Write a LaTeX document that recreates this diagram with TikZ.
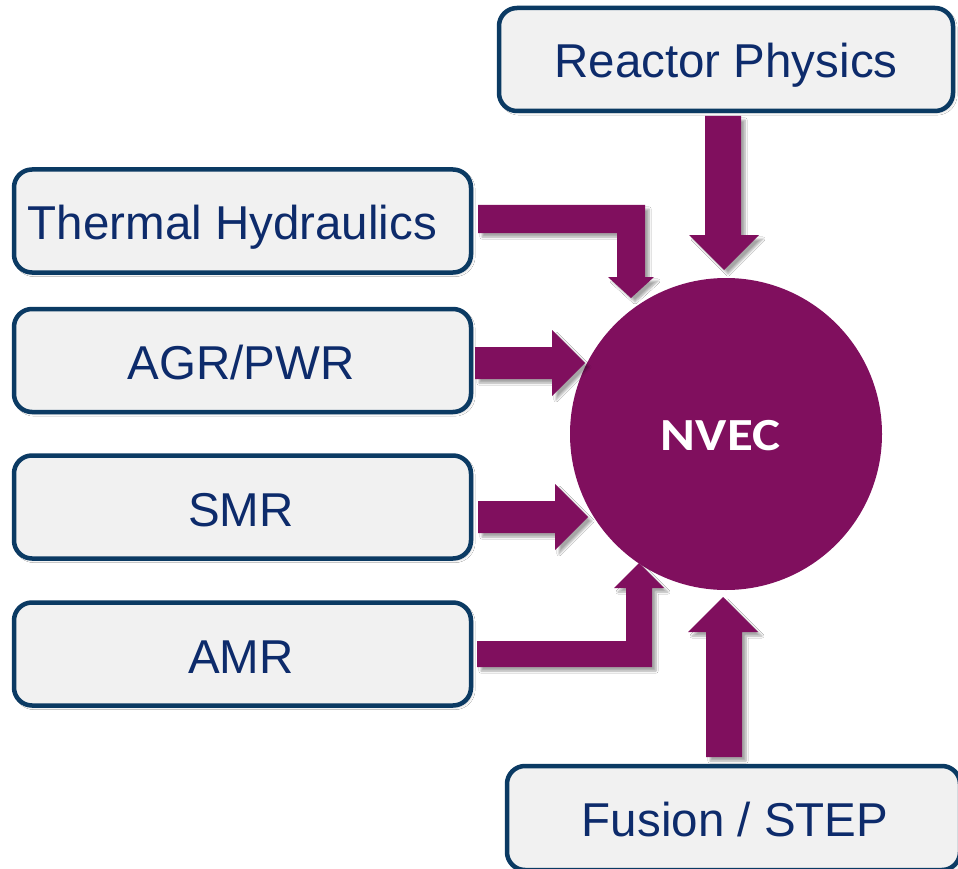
\documentclass[tikz,border=0pt]{standalone}
\usepackage{fontspec}
\usepackage{graphicx}
\setmainfont{Liberation Sans}
\newfontfamily\nvecfont{Carlito}
\usetikzlibrary{shadows.blur}
\definecolor{nvpurple}{HTML}{800F5E}
\definecolor{boxborder}{HTML}{0B3A63}
\definecolor{boxtext}{HTML}{0D2B6B}
\definecolor{boxfill}{HTML}{F1F1F1}
\begin{document}
\begin{tikzpicture}[x=1pt,y=-1pt,
  topic/.style={draw=boxborder, line width=4.5pt, fill=boxfill, rounded corners=18pt,
    minimum width=457pt, minimum height=103pt, inner sep=0pt,
    blur shadow={shadow xshift=2pt, shadow yshift=-2pt, shadow blur steps=4, shadow opacity=18}},
  topictext/.style={text=boxtext, font=\fontsize{47.5}{50}\selectfont, anchor=base, inner sep=0pt},
  blockarrow/.style={fill=nvpurple,
    blur shadow={shadow xshift=4pt, shadow yshift=-4pt, shadow blur steps=6, shadow opacity=35}}]
\useasboundingbox (0,0) rectangle (958,869);
\clip (0,0) rectangle (958,869);
\fill[white] (0,0) rectangle (958,869);

% boxes
\node[topic, minimum width=454pt] (rp) at (726,59.5) {};
\node[topictext] (rpt) at (726,78) {Reactor Physics};
\node[topic] (th) at (242.5,221) {};
\node[topictext] (tht) at (232.5,240) {Thermal Hydraulics};
\node[topic] (agr) at (242.5,360.5) {};
\node[topictext] (agrt) at (241,379) {AGR/PWR};
\node[topic] (smr) at (242.5,507) {};
\node[topictext] (smrt) at (241,526) {SMR};
\node[topic] (amr) at (242.5,654) {};
\node[topictext] (amrt) at (241,673) {AMR};
\node[topic, minimum width=453pt, minimum height=104pt] (fs) at (733.5,818) {};
\node[topictext] (fst) at (735,836) {Fusion / STEP};

% central circle
\node[circle, fill=nvpurple, minimum size=312pt, inner sep=0pt] (nvec) at (726,434) {};
\node[anchor=base, inner sep=0pt, text=white] (nvect) at (720.5,450)
  {\scalebox{1.15}[1]{\nvecfont\bfseries\fontsize{46}{48}\selectfont NVEC}};

% block arrows
\fill[blockarrow] (478,205) -- (645,205) -- (645,277) -- (654,277) -- (631,298)
  -- (608,277) -- (617,277) -- (617,233) -- (478,233) -- cycle;
\fill[blockarrow] (475,347) -- (552,347) -- (552,330) -- (585,363) -- (552,396)
  -- (552,379) -- (475,379) -- cycle;
\fill[blockarrow] (478,501) -- (555,501) -- (555,484) -- (588,517) -- (555,550)
  -- (555,533) -- (478,533) -- cycle;
\fill[blockarrow] (477,667) -- (652,667) -- (652,588) -- (664,588) -- (639,563)
  -- (614,588) -- (626,588) -- (626,641) -- (477,641) -- cycle;
\fill[blockarrow] (705,116) -- (741,116) -- (741,235) -- (759,235) -- (724,270)
  -- (689,235) -- (705,235) -- cycle;
\fill[blockarrow] (706,757) -- (742,757) -- (742,632) -- (758,632) -- (723,597)
  -- (688,632) -- (706,632) -- cycle;
\end{tikzpicture}
\end{document}
